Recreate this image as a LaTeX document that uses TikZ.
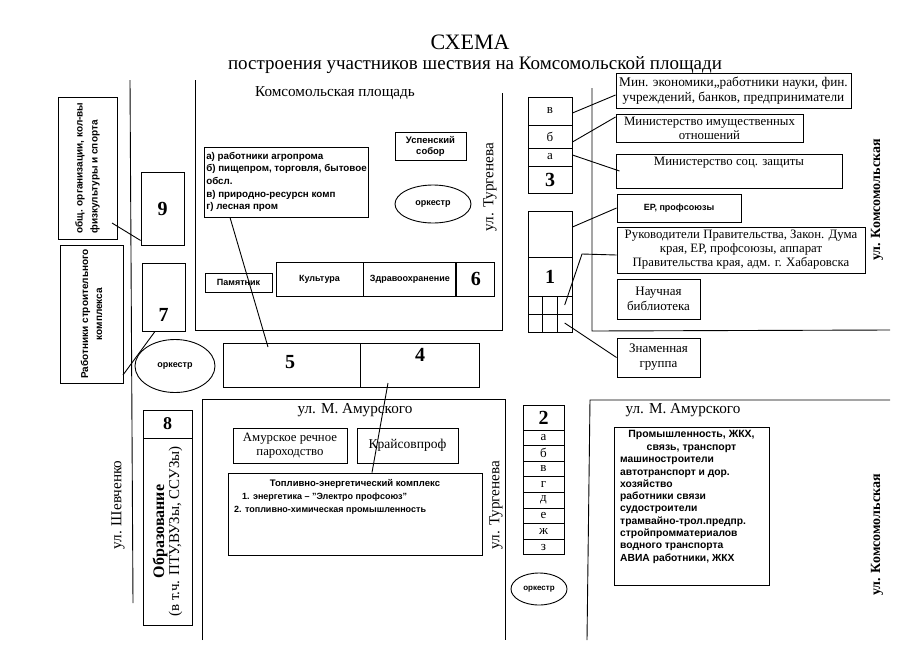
\documentclass[tikz,border=0pt]{standalone}
\usepackage{fontspec}
\setmainfont{Liberation Serif}
\setsansfont{Liberation Sans}
\usepackage{tikz}
\usetikzlibrary{positioning, shapes.geometric, calc}

\begin{document}
\begin{tikzpicture}[x=1pt,y=-1pt,
  street/.style={line width=0.9pt},
  box/.style={draw, line width=0.9pt, inner sep=1pt, align=center},
  cell/.style={draw, line width=0.9pt, inner sep=0pt, minimum width=41pt},
  ork/.style={draw, ellipse, line width=0.9pt, inner sep=0pt, font=\fontsize{9}{10}\sffamily\bfseries},
  num/.style={font=\fontsize{20}{22}\selectfont\bfseries},
  serif/.style={font=\fontsize{12.8}{14}\selectfont},
  small/.style={font=\fontsize{9.8}{12.7}\sffamily\bfseries},
  tiny/.style={font=\fontsize{9}{11}\sffamily\bfseries},
  road/.style={font=\fontsize{15.2}{17}\selectfont}]

  \fill[white] (0,0) rectangle (900,646);
  \useasboundingbox (0,0) rectangle (900,646);

  \node[font=\fontsize{22}{24}\selectfont, inner sep=0pt] (title) at (470,42) {СХЕМА};
  \node[font=\fontsize{19}{21}\selectfont, inner sep=0pt] (subtitle) at (475,65) {построения участников шествия на Комсомольской площади};

  \draw[street] (130,80) -- (133,603);
  \draw[street] (195,80) -- (195,330) -- (502,330) -- (502,93);
  \draw[street] (592,88) -- (592,331) -- (890,330);
  \draw[street] (890,400) -- (590,400) -- (587,640);
  \draw[street] (202,640) -- (202,399) -- (505,399) -- (505,640);

  \node[road] (square) at (335,93) {Комсомольская площадь};
  \node[road, rotate=90] (turg1) at (490,187) {ул. Тургенева};
  \node[road, rotate=90] (turg2) at (496,505) {ул. Тургенева};
  \node[road] (amur1) at (355,410) {ул. М. Амурского};
  \node[road] (amur2) at (683,410) {ул. М. Амурского};
  \node[road, rotate=90] (shev) at (118,505) {ул. Шевченко};
  \foreach \y/\n in {200/1,535/2}
    \node[rotate=90, font=\fontsize{14}{16}\selectfont\bfseries] (koms\n) at (877,\y) {ул. Комсомольская};

  \node[box, rotate=90, minimum width=142, minimum height=59, align=left,
        font=\fontsize{10}{15}\sffamily\bfseries] (sport) at (87.5,168) {общ. организации, кол-вы\\физкультуры и спорта};
  \node[box, minimum width=43, minimum height=73, num] (box9) at (162.5,208.5) {9};
  \coordinate (sportend) at (112,223);
  \draw[street] (sportend) -- ([yshift=5pt]box9.south west);

  \node[box, rotate=90, minimum width=138, minimum height=63,
        font=\fontsize{10}{14}\sffamily\bfseries] (build) at (91.5,314) {Работники строительного\\комплекса};
  \node[box, minimum width=43, minimum height=68] (box7) at (163.5,297) {};
  \node[num] (num7) at (163.5,315) {7};
  \coordinate (buildend) at (123,375);
  \draw[street] ([xshift=-8.5pt]box7.south) -- (buildend);
  \node[ork, minimum width=80, minimum height=53] (ork1) at (175,366) {оркестр};

  \node[box, minimum width=157, minimum height=70, align=left, small, inner sep=2pt] (list) at (286.5,182)
    {а) работники агропрома\\б) пищепром, торговля, бытовое\\обсл.\\в) природно-ресурсн комп\\г) лесная пром};
  \node[box, minimum width=71, minimum height=28, font=\fontsize{9.5}{11}\sffamily\bfseries] (sobor) at (430.5,146) {Успенский\\собор};
  \node[ork, minimum width=76, minimum height=38] (ork2) at (433,204) {оркестр};
  \node[box, minimum width=67, minimum height=19, tiny] (pam) at (238.5,282.5) {Памятник};
  \node[box, minimum width=87, minimum height=34, tiny] (kult) at (319.5,279) {Культура};
  \node[box, minimum width=92, minimum height=34, tiny, right=0pt of kult] (zdrav) {Здравоохранение};
  \node[box, minimum width=38, minimum height=34, num, right=0pt of zdrav] (six) {6};

  \node[box, minimum width=137, minimum height=44] (five) at (291.5,365) {};
  \node[box, minimum width=119, minimum height=44, right=0pt of five] (four) {};
  \node[num] (num5) at (290,362) {5};
  \node[num] (num4) at (420,355) {4};
  \coordinate (c5) at (268,347);
  \draw[street] ([xshift=-56.5pt]list.south) -- (c5);

  \node[box, minimum width=114, minimum height=35, serif] (amur) at (290,445.5) {Амурское речное\\пароходство};
  \node[box, minimum width=101, minimum height=35, font=\fontsize{13.5}{15}\selectfont] (krai) at (407.5,445.5) {Крайсовпроф};
  \node[box, minimum width=254, minimum height=82] (topl) at (355,514) {};
  \node[font=\fontsize{9.5}{11}\sffamily\bfseries, below=3pt of topl.north] (topltitle) {Топливно-энергетический комплекс};
  \node[font=\fontsize{9}{11}\sffamily\bfseries, anchor=west, inner sep=0pt] (topl1) at (242,497) {1. энергетика – "Электро профсоюз"};
  \node[font=\fontsize{9}{11}\sffamily\bfseries, anchor=west, inner sep=0pt] (topl2) at (234,510) {2. топливно-химическая промышленность};
  \coordinate (c4) at (388,383);
  \draw[street] (c4) -- ([xshift=17pt]topl.north);

  \node[cell, minimum height=25, num] (c2) at (543.5,417.5) {2};
  \foreach \l [count=\i] in {а,б,в,г,д,е,ж,з}
    \node[cell, minimum height=15.6, font=\fontsize{13}{14}\selectfont] (c2-\i) at (543.5,{430+15.6*(\i-0.5)}) {\l};
  \node[ork, minimum width=56, minimum height=32, font=\fontsize{8}{9}\sffamily\bfseries] (ork3) at (539,589) {оркестр};

  \foreach \n/\t/\y/\h in {v/в/111/28, b/б/136.5/23, a/а/157/18}
    \node[cell, minimum width=44, minimum height=\h, font=\fontsize{13}{14}\selectfont] (c3\n) at (550,\y) {\t};
  \node[cell, minimum width=44, minimum height=27, num] (c3) at (550,179.5) {3};

  \node[box, minimum width=235, minimum height=35, font=\fontsize{13.3}{14.5}\selectfont, inner sep=0.5pt] (mine) at (733.5,90.5)
    {Мин. экономики,,работники науки, фин.\\учреждений, банков, предприниматели};
  \node[box, minimum width=187, minimum height=28, serif, inner sep=0.5pt] (imush) at (709.5,128)
    {Министерство имущественных\\отношений};
  \node[box, minimum width=226, minimum height=34] (soc) at (729,171) {};
  \node[serif] (soctext) at (729,163) {Министерство соц. защиты};
  \draw[street] ([yshift=-2pt]c3v.east) -- ([yshift=-4.5pt]mine.west);
  \draw[street] ([yshift=-5.5pt]c3b.east) -- ([yshift=11pt]imush.west);
  \draw[street] ([yshift=2pt]c3a.east) -- ([xshift=4pt]soc.west);

  \node[cell, minimum width=44, minimum height=46] (c1top) at (550,234) {};
  \node[cell, minimum width=44, minimum height=39, num] (c1) at (550,276.5) {1};
  \foreach \r/\y in {1/305,2/323}
    \foreach \c in {1,2,3}
      \node[cell, minimum width=14.67, minimum height=18] (g\r\c) at ({528+14.67*(\c-0.5)},\y) {};

  \node[box, minimum width=124, minimum height=28, tiny] (er) at (679,208) {ЕР, профсоюзы};
  \node[box, minimum width=248, minimum height=46, serif] (ruk) at (741,250)
    {Руководители Правительства, Закон. Дума\\края, ЕР, профсоюзы, аппарат\\Правительства края, адм. г. Хабаровска};
  \node[box, minimum width=83, minimum height=40, font=\fontsize{13}{15}\selectfont] (nauch) at (658.5,299) {Научная\\библиотека};
  \node[box, minimum width=83, minimum height=39, font=\fontsize{13}{15}\selectfont] (znam) at (658.5,357.5) {Знаменная\\группа};
  \coordinate (rukbend) at (582,254);
  \draw[street] ([yshift=7pt]c1top.east) -- (er.west);
  \draw[street] (g13.center) -- (rukbend) -- ([yshift=-5pt]ruk.west);
  \draw[street] (g23.center) -- (znam.west);

  \node[cell, minimum width=49, minimum height=28, font=\fontsize{18}{20}\selectfont\bfseries] (c8) at (167.5,424) {8};
  \node[box, rotate=90, minimum width=187, minimum height=49, inner sep=0pt,
        font=\fontsize{15}{15}\selectfont] (edu) at (167.5,531.5) {{\fontsize{16}{15}\selectfont\bfseries Образование}\\(в т.ч. ПТУ,ВУЗы, ССУЗы)};

  \node[box, minimum width=155, minimum height=158] (prom) at (691.5,506) {};
  \node[align=center, inner sep=0pt, font=\fontsize{10.5}{13}\sffamily\bfseries, below=4pt of prom.north] (promtitle)
    {Промышленность, ЖКХ,\\связь, транспорт};
  \node[align=left, inner sep=0pt, font=\fontsize{10.3}{12.3}\sffamily\bfseries, anchor=north west] (promlist) at (620,457)
    {машиностроители\\автотранспорт и дор.\\хозяйство\\работники связи\\судостроители\\трамвайно-трол.предпр.\\стройпромматериалов\\водного транспорта\\АВИА работники, ЖКХ};
\end{tikzpicture}
\end{document}
